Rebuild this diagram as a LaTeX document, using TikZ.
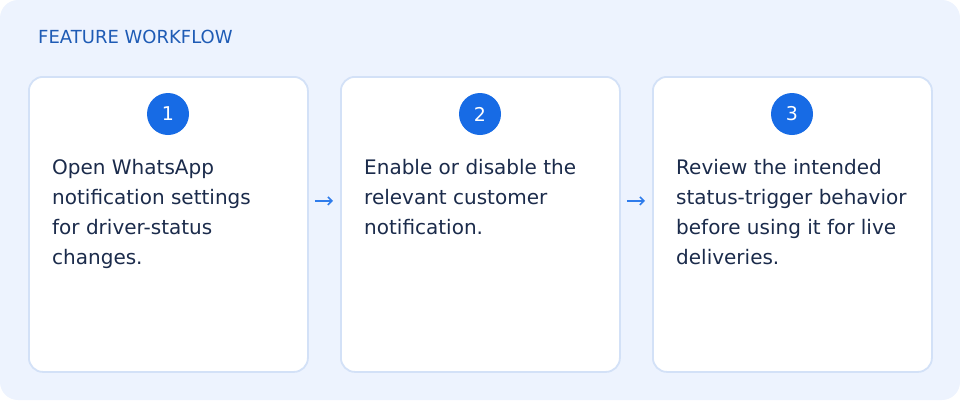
\documentclass[tikz,border=0pt]{standalone}
\usepackage{fontspec}
\setmainfont{DejaVu Sans}
\usetikzlibrary{arrows.meta,calc}
\definecolor{bgblue}{HTML}{EDF3FE}
\definecolor{cardborder}{HTML}{D3E1F7}
\definecolor{circblue}{HTML}{176BE5}
\definecolor{titleblue}{HTML}{1E5BB5}
\definecolor{textnavy}{HTML}{1B2B4B}
\definecolor{arrowblue}{HTML}{2F7CEB}
\tikzset{
  card/.style={draw=cardborder, line width=1.8pt, fill=white, rounded corners=14pt,
    minimum width=279pt, minimum height=295pt, inner sep=0pt, anchor=north west},
  numdot/.style={circle, fill=circblue, minimum size=42pt, inner sep=0pt,
    text=white, font=\fontsize{19}{19}\selectfont},
  body/.style={anchor=base west, inner sep=0pt, align=left, text=textnavy,
    font=\fontsize{20}{30}\selectfont},
  flow/.style={draw=arrowblue, line width=1.6pt, -{Straight Barb[length=4pt,width=8pt]}}
}
\begin{document}
\begin{tikzpicture}[x=1pt,y=-1pt]
\useasboundingbox (0,0) rectangle (960,400);
\fill[bgblue, rounded corners=18pt] (0,0) rectangle (960,400);
\node[anchor=base west, inner sep=0pt, text=titleblue, font=\fontsize{18}{18}\selectfont]
  (title) at (38,43.5) {FEATURE WORKFLOW};

\node[card] (c1) at (28,76) {};
\node[card] (c2) at (340,76) {};
\node[card] (c3) at (652,76) {};

\node[numdot] (n1) at (168,114) {1};
\node[numdot] (n2) at (480,114) {2};
\node[numdot] (n3) at (792,114) {3};

% anchor base = baseline of the last line
\node[body] (t1) at (52,264) {Open WhatsApp\\notification settings\\for driver-status\\changes.};
\node[body] (t2) at (364,234) {Enable or disable the\\relevant customer\\notification.};
\node[body] (t3) at (676,264) {Review the intended\\status-trigger behavior\\before using it for live\\deliveries.};

\coordinate (a1s) at ($(c1.east)+(6,-23.5)$);
\coordinate (a1e) at ($(c2.west)+(-7,-23.5)$);
\coordinate (a2s) at ($(c2.east)+(6,-23.5)$);
\coordinate (a2e) at ($(c3.west)+(-7,-23.5)$);
\draw[flow] (a1s) -- (a1e);
\draw[flow] (a2s) -- (a2e);
\end{tikzpicture}
\end{document}
